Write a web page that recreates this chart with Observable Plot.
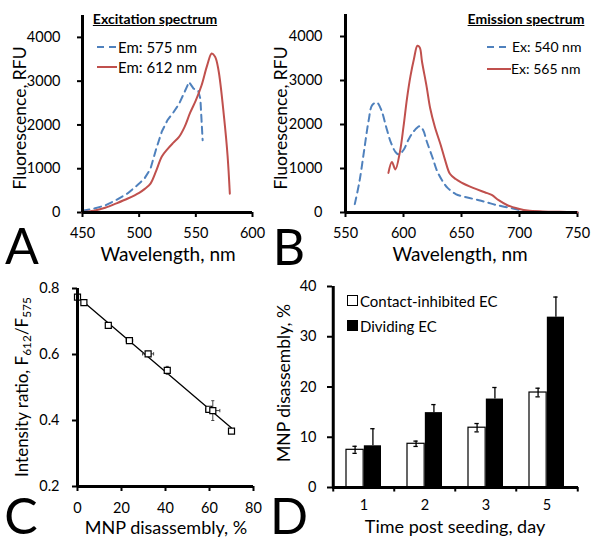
<!DOCTYPE html>
<html><head><meta charset="utf-8">
<script src="https://cdn.jsdelivr.net/npm/d3@7"></script>
<script src="https://cdn.jsdelivr.net/npm/@observablehq/plot@0.6"></script>
<style>
body{margin:0;background:#fff;}
#root{position:relative;width:601px;height:550px;overflow:hidden;font-family:Lato,"Open Sans",sans-serif;color:#000;background:#fff;}
#root svg{position:absolute;overflow:visible;}
.t{position:absolute;white-space:nowrap;transform:translate(-50%,-50%);line-height:1;}
.v{transform:translate(-50%,-50%) rotate(-90deg);}
.l{position:absolute;white-space:nowrap;transform:translate(0,-50%);line-height:1;}
.letter{font-size:50px;}
.title{font-weight:bold;text-decoration:underline;font-size:14px;}
sub{font-size:0.7em;vertical-align:-0.25em;}
</style></head><body><div id="root"></div>
<script>
// ---------- DATA ----------
// Panel A: excitation spectrum
const exWl575 = [450,460,470,480,490,500,505,510,515,520,525,530,535,540,544,548,552,554,556];
const exRfu575 = [40,90,160,290,440,660,790,1000,1450,1850,2110,2280,2470,2750,2980,2830,2790,2600,1650];
const exWl612 = [450,460,470,480,490,500,505,510,515,520,525,530,535,540,545,550,555,560,564,567,570,575,578,580];
const exRfu612 = [10,40,110,210,320,450,540,660,950,1280,1450,1590,1720,1950,2280,2560,2900,3360,3630,3560,3250,2150,1300,430];
// Panel B: emission spectrum
const emWl540 = [558,562,566,570,573,577,581,585,589,593,596,600,604,609,614,617,620,625,629,634,638,645,655,665,672,680,690,700,707,720,735,750];
const emRfu540 = [190,700,1400,2100,2440,2500,2320,1950,1600,1380,1320,1420,1640,1850,1960,1870,1620,1250,940,700,560,420,340,280,230,170,115,60,25,12,8,5];
const emWl565 = [587,590,593,597,600,603,606,609,612,614,616,620,623,627,632,636,640,645,650,660,670,676,682,690,700,707,720,735,750];
const emRfu565 = [900,1150,980,1390,1950,2590,3100,3490,3790,3750,3420,2850,2370,1950,1540,1180,880,760,680,560,460,400,280,160,80,45,25,15,8];
const xTicksA = [450,500,550,600];
const xTicksB = [550,600,650,700,750];
const yTicksRfu = [0,1000,2000,3000,4000];
// Panel C: calibration
const disassembly = [0,2.9,14,23.6,32.1,40.8,59.7,61.5,70];
const ratio = [0.774,0.757,0.688,0.642,0.602,0.552,0.434,0.430,0.368];
const disassemblyErr = [0,0.5,0.5,1.5,2.5,0.5,1.5,3.2,0];
const ratioErr = [0.004,0.004,0.004,0.005,0.005,0.012,0.005,0.03,0];
const xTicksC = [0,20,40,60,80];
const yTicksC = [0.2,0.4,0.6,0.8];
// Panel D: MNP disassembly vs time
const days = ["1","2","3","5"];
const contactInhibited = [7.5,8.7,11.9,18.9];
const contactInhibitedErr = [0.7,0.53,0.83,0.86];
const dividing = [8.3,14.9,17.6,33.9];
const dividingErr = [3.4,1.6,2.3,4.0];
const yTicksD = [0,10,20,30,40];

// ---------- STYLE ----------
const blue = "#4f81bd", red = "#c0504d";
const FONT = "Lato, 'Open Sans', sans-serif";
const root = document.getElementById("root");
function put(node, left, top){ node.style.left = left+"px"; node.style.top = top+"px"; root.appendChild(node); }
function text(html, x, y, cls, size){
  const d = document.createElement("div");
  d.className = cls; d.innerHTML = html; if (size) d.style.fontSize = size+"px";
  put(d, x, y); return d;
}
function swatchLine(x1, x2, y, color, dash){
  const ns = "http://www.w3.org/2000/svg";
  const s = document.createElementNS(ns, "svg");
  s.setAttribute("width", x2-x1); s.setAttribute("height", 6);
  const l = document.createElementNS(ns, "line");
  l.setAttribute("x1", 0); l.setAttribute("x2", x2-x1); l.setAttribute("y1", 3); l.setAttribute("y2", 3);
  l.setAttribute("stroke", color); l.setAttribute("stroke-width", 2);
  if (dash) l.setAttribute("stroke-dasharray", dash);
  s.appendChild(l); s.style.left = x1+"px"; s.style.top = (y-3)+"px"; root.appendChild(s);
}
function swatchBox(x, y, w, h, fill){
  const d = document.createElement("div");
  d.style.position="absolute"; d.style.width=(w-2)+"px"; d.style.height=(h-2)+"px";
  d.style.border="1px solid #000"; d.style.background=fill; put(d, x, y);
}
const baseStyle = {fontFamily: FONT, fontSize: "14.5px", color: "#000", background: "transparent", overflow: "visible"};

// ---------- PANEL A ----------
const dataA575 = exWl575.map((w,i)=>({w, v: exRfu575[i]}));
const dataA612 = exWl612.map((w,i)=>({w, v: exRfu612[i]}));
const pA = Plot.plot({
  width: 300, height: 280, marginLeft: 82, marginRight: 48, marginTop: 15, marginBottom: 68,
  style: baseStyle,
  x: {domain: [450, 600]}, y: {domain: [0, 4500]},
  marks: [
    Plot.axisX({ticks: xTicksA, tickSize: 5, tickPadding: 10, strokeWidth: 2, label: null, tickFormat: d=>String(d)}),
    Plot.axisY({ticks: yTicksRfu, tickSize: 5, tickPadding: 17, strokeWidth: 2, label: null, tickFormat: d=>String(d)}),
    Plot.line(dataA575, {x: "w", y: "v", stroke: blue, strokeWidth: 2, strokeDasharray: "7,5", curve: "linear"}),
    Plot.line(dataA612, {x: "w", y: "v", stroke: red, strokeWidth: 2, curve: "catmull-rom"}),
    Plot.ruleX([450], {strokeWidth: 3}),
    Plot.ruleY([0], {strokeWidth: 3})
  ]
});
pA.style.left = "0px"; pA.style.top = "0px"; root.appendChild(pA);

// ---------- PANEL B ----------
const dataB540 = emWl540.map((w,i)=>({w, v: emRfu540[i]}));
const dataB565 = emWl565.map((w,i)=>({w, v: emRfu565[i]}));
const pB = Plot.plot({
  width: 301, height: 280, marginLeft: 45, marginRight: 24, marginTop: 14, marginBottom: 68,
  style: baseStyle,
  x: {domain: [550, 750]}, y: {domain: [0, 4500]},
  marks: [
    Plot.axisX({ticks: xTicksB, tickSize: 5, tickPadding: 10, strokeWidth: 2, label: null, tickFormat: d=>String(d)}),
    Plot.axisY({ticks: yTicksRfu, tickSize: 5, tickPadding: 18, strokeWidth: 2, label: null, tickFormat: d=>String(d)}),
    Plot.line(dataB540, {x: "w", y: "v", stroke: blue, strokeWidth: 2, strokeDasharray: "7,5", curve: "catmull-rom"}),
    Plot.line(dataB565, {x: "w", y: "v", stroke: red, strokeWidth: 2, curve: "catmull-rom"}),
    Plot.ruleX([550], {strokeWidth: 3}),
    Plot.ruleY([0], {strokeWidth: 3})
  ]
});
pB.style.left = "300px"; pB.style.top = "0px"; root.appendChild(pB);

// ---------- PANEL C ----------
const dataC = disassembly.map((x,i)=>({x, y: ratio[i], ex: disassemblyErr[i], ey: ratioErr[i]}));
const capX = 0.7, capY = 0.005;
const pC = Plot.plot({
  width: 300, height: 270, marginLeft: 77, marginRight: 47, marginTop: 8, marginBottom: 64,
  style: baseStyle,
  x: {domain: [0, 80]}, y: {domain: [0.2, 0.8]},
  marks: [
    Plot.axisX({ticks: xTicksC, tickSize: 5, tickPadding: 11, strokeWidth: 2, label: null}),
    Plot.axisY({ticks: yTicksC, tickSize: 5, tickPadding: 13, strokeWidth: 2, label: null, tickFormat: d=>d.toFixed(1)}),
    Plot.linearRegressionY(dataC, {x: "x", y: "y", stroke: "#000", strokeWidth: 1.3, ci: 0}),
    Plot.link(dataC.filter(d=>d.ey>0), {x1: "x", x2: "x", y1: d=>d.y-d.ey, y2: d=>d.y+d.ey, stroke: "#444", strokeWidth: 1}),
    Plot.link(dataC.filter(d=>d.ey>0.008), {x1: d=>d.x-capX, x2: d=>d.x+capX, y1: d=>d.y+d.ey, y2: d=>d.y+d.ey, stroke: "#444", strokeWidth: 1}),
    Plot.link(dataC.filter(d=>d.ey>0.008), {x1: d=>d.x-capX, x2: d=>d.x+capX, y1: d=>d.y-d.ey, y2: d=>d.y-d.ey, stroke: "#444", strokeWidth: 1}),
    Plot.link(dataC.filter(d=>d.ex>0), {x1: d=>d.x-d.ex, x2: d=>d.x+d.ex, y1: "y", y2: "y", stroke: "#444", strokeWidth: 1}),
    Plot.link(dataC.filter(d=>d.ex>1), {x1: d=>d.x+d.ex, x2: d=>d.x+d.ex, y1: d=>d.y-capY, y2: d=>d.y+capY, stroke: "#444", strokeWidth: 1}),
    Plot.link(dataC.filter(d=>d.ex>1), {x1: d=>d.x-d.ex, x2: d=>d.x-d.ex, y1: d=>d.y-capY, y2: d=>d.y+capY, stroke: "#444", strokeWidth: 1}),
    Plot.dot(dataC, {x: "x", y: "y", symbol: "square", r: 3.4, fill: "white", stroke: "#000", strokeWidth: 1.2}),
    Plot.ruleX([0], {strokeWidth: 3}),
    Plot.ruleY([0.2], {strokeWidth: 3})
  ]
});
pC.style.left = "0px"; pC.style.top = "280px"; root.appendChild(pC);

// ---------- PANEL D ----------
const widthD = 301, mLD = 32, mRD = 23;
const pIn = 0.42, pOut = 0.21;
const stepD = (widthD - mLD - mRD) / (days.length - pIn + 2*pOut);
const bwD = stepD * (1 - pIn);
const half = bwD / 2, q = bwD / 4;
const capInset = (bwD/2 - 5) / 2;
const dataCI = days.map((d,i)=>({d, v: contactInhibited[i], e: contactInhibitedErr[i]}));
const dataDiv = days.map((d,i)=>({d, v: dividing[i], e: dividingErr[i]}));
const pD = Plot.plot({
  width: widthD, height: 270, marginLeft: mLD, marginRight: mRD, marginTop: 6, marginBottom: 63,
  style: baseStyle,
  x: {type: "band", domain: days, paddingInner: pIn, paddingOuter: pOut},
  y: {domain: [0, 40]},
  marks: [
    Plot.axisX({tickSize: 0, tickPadding: 12, label: null}),
    Plot.axisY({ticks: yTicksD, tickSize: 5, tickPadding: 11, strokeWidth: 2, label: null}),
    Plot.ruleX(days, {x: d=>d, dx: -stepD/2, y1: 0, y2: -0.9, strokeWidth: 2}),
    Plot.ruleX(days.slice(-1), {x: d=>d, dx: stepD/2, y1: 0, y2: -0.9, strokeWidth: 2}),
    Plot.barY(dataCI, {x: "d", y: "v", fill: "white", stroke: "#000", strokeWidth: 1.2, insetRight: half}),
    Plot.barY(dataDiv, {x: "d", y: "v", fill: "#000", insetLeft: half}),
    Plot.ruleX(dataCI, {x: "d", y1: d=>d.v-d.e, y2: d=>d.v+d.e, dx: -q, strokeWidth: 1.3}),
    Plot.tickY(dataCI, {x: "d", y: d=>d.v+d.e, insetLeft: capInset, insetRight: capInset + half, strokeWidth: 1.3}),
    Plot.tickY(dataCI, {x: "d", y: d=>d.v-d.e, insetLeft: capInset, insetRight: capInset + half, strokeWidth: 1.3}),
    Plot.ruleX(dataDiv, {x: "d", y1: d=>d.v, y2: d=>d.v+d.e, dx: q, strokeWidth: 1.3}),
    Plot.tickY(dataDiv, {x: "d", y: d=>d.v+d.e, insetLeft: capInset + half, insetRight: capInset, strokeWidth: 1.3}),
    Plot.ruleX(days.slice(0,1), {x: d=>d, dx: -stepD/2, strokeWidth: 3}),
    Plot.ruleY([0], {strokeWidth: 3})
  ]
});
pD.style.left = "300px"; pD.style.top = "280px"; root.appendChild(pD);

// ---------- TEXT / LEGENDS ----------
text("Fluorescence, RFU", 20, 118, "t v", 17.5);
text("Fluorescence, RFU", 281, 118, "t v", 17.5);
text("Wavelength, nm", 168, 253, "t", 19);
text("Wavelength, nm", 460, 253, "t", 19);
text("Excitation spectrum", 155, 19, "t title");
text("Emission spectrum", 526, 19, "t title");
swatchLine(97, 116, 47, blue, "7,5");
text("Em: 575 nm", 118, 47, "l", 15);
swatchLine(97, 117, 67, red);
text("Em: 612 nm", 118, 67, "l", 15);
swatchLine(487, 509, 47, blue, "7,5");
text("Ex: 540 nm", 512, 47, "l", 14);
swatchLine(487, 511, 69, red);
text("Ex: 565 nm", 511, 69, "l", 14);

text("Intensity ratio, F<sub>612</sub>/F<sub>575</sub>", 23, 387, "t v", 17);
text("MNP disassembly, %", 166, 527, "t", 18);
text("MNP disassembly, %", 284, 383, "t v", 17.5);
text("Time post seeding, day", 455, 526, "t", 18);
swatchBox(347, 295, 11, 11, "#fff");
text("Contact-inhibited EC", 360, 301, "l", 15);
swatchBox(347, 320, 11, 11, "#000");
text("Dividing EC", 360, 326, "l", 15);

text("A", 22, 245, "t letter");
text("B", 289, 246, "t letter");
text("C", 21, 515, "t letter");
text("D", 289, 515, "t letter");
</script></body></html>
